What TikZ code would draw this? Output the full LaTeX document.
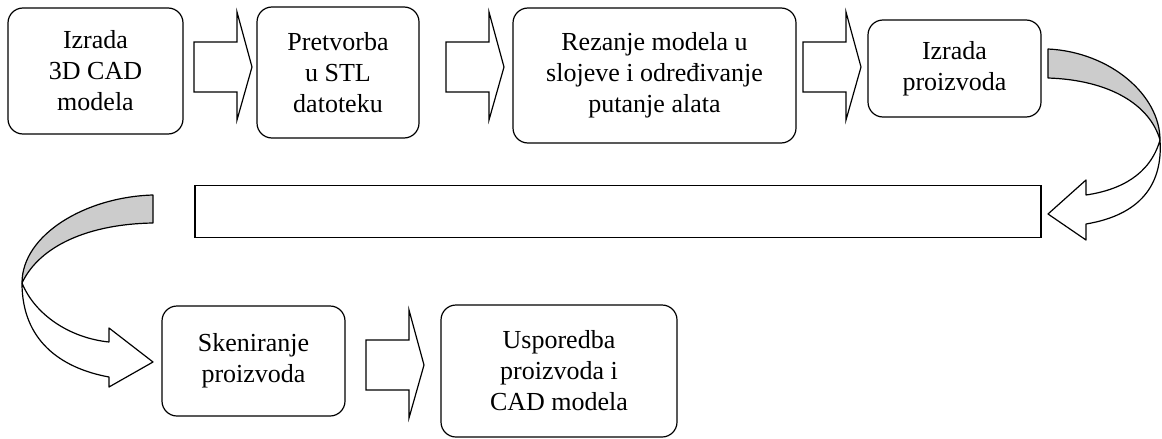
\documentclass[tikz,border=0pt]{standalone}
\usepackage{fontspec}
\setmainfont{Liberation Serif}
\usepackage{tikz}
\usetikzlibrary{positioning}

\begin{document}
\begin{tikzpicture}[x=1pt, y=-1pt, line width=1.2pt,
		stepbox/.style={draw, rounded corners=15pt, align=center, inner sep=0pt,
			font=\fontsize{26}{31}\selectfont},
		curvearrow/.style={draw, line join=round}]
		\useasboundingbox (0,0) rectangle (1162,439);
		% Process steps
		\node[stepbox, minimum width=175pt, minimum height=126pt] (cad) at (95.5,71) {Izrada\\3D CAD\\modela};
		\node[stepbox, minimum width=162pt, minimum height=131pt] (stl) at (338,72.5) {Pretvorba\\u STL\\datoteku};
		\node[stepbox, minimum width=283pt, minimum height=135pt] (rez) at (654.5,75.5) {Rezanje modela u\\slojeve i određivanje\\putanje alata};
		\node[stepbox, minimum width=173pt, minimum height=97pt] (izr) at (954.5,68.5) {Izrada\\proizvoda};
		\node[draw, minimum width=846pt, minimum height=52pt, inner sep=0pt] (prazno) at (618,211.5) {};
		\node[stepbox, minimum width=183pt, minimum height=110pt] (sken) at (253.5,361) {Skeniranje\\proizvoda};
		\node[stepbox, minimum width=236pt, minimum height=132pt] (usp) at (559,371) {Usporedba\\proizvoda i\\CAD modela};
		% Block arrows (tail centres)
		\coordinate (a1) at (194,67);
		\coordinate (a2) at (446,67);
		\coordinate (a3) at (803,67);
		\coordinate (a5) at (366,365);
		\foreach \t in {a1,a2,a3,a5}
			\draw[line join=miter] (\t) ++(0,-25) -- ++(43,0) -- ++(0,-30) -- ++(15,55)
				-- ++(-15,53) -- ++(0,-28) -- ++(-43,0) -- cycle;
		% Curved arrow on the right
		\draw[curvearrow, fill=black!20] (1048,49) .. controls (1110,52) and (1160,95) .. (1160,140)
			.. controls (1150,105) and (1110,80) .. (1048,78) -- cycle;
		\draw[curvearrow] (1160,140) .. controls (1150,175) and (1120,190) .. (1086,195)
			-- (1086,180) -- (1048,214) -- (1086,240) -- (1086,224)
			.. controls (1140,215) and (1163,185) .. (1160,140);
		% Curved arrow on the left
		\draw[curvearrow, fill=black!20] (153,195) .. controls (85,197) and (22,235) .. (22,283)
			.. controls (40,245) and (90,224) .. (153,223) -- cycle;
		\draw[curvearrow] (22,283) .. controls (35,315) and (70,338) .. (109,342)
			-- (109,328) -- (153,362) -- (109,387) -- (109,377)
			.. controls (60,368) and (22,340) .. (22,283);
	\end{tikzpicture}
\end{document}
